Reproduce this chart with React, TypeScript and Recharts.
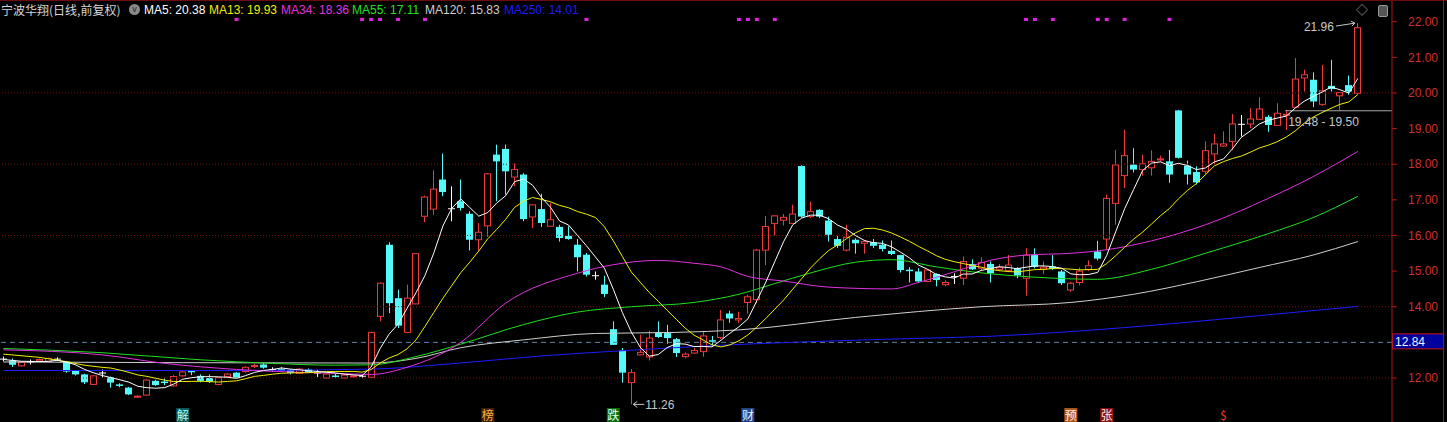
import React from "react";
import { ComposedChart, Bar, Line, XAxis, YAxis, ReferenceLine, ReferenceDot } from "recharts";

// daily candles (index 0 = leftmost)
const opens = [
  12.53, 12.49, 12.34, 12.45, 12.48, 12.47, 12.53, 12.46, 12.2, 12.1, 11.82, 12.14, 12.02, 11.82, 11.73, 11.46,
  11.52, 11.92, 11.9, 11.78, 12.06, 12.21, 12.06, 12.0, 11.82, 12.04, 12.15, 12.18, 12.32, 12.38, 12.24, 12.25,
  12.22, 12.13, 12.24, 12.14, 12.0, 12.07, 12.0, 12.04, 12.05, 12.02, 13.73, 15.74, 14.24, 13.28, 14.08, 16.54,
  16.74, 17.57, 16.75, 16.96, 16.61, 15.88, 16.27, 18.27, 18.43, 17.64, 17.71, 16.52, 16.74, 16.26, 16.24, 15.99,
  15.74, 15.46, 14.87, 14.62, 13.37, 12.77, 11.87, 12.65, 12.59, 13.28, 13.26, 13.09, 12.6, 12.7, 12.74, 13.06,
  13.14, 13.81, 13.63, 14.12, 14.2, 15.59, 16.34, 16.43, 16.34, 17.95, 16.53, 16.72, 16.42, 15.9, 15.59, 15.88,
  15.78, 15.81, 15.74, 15.57, 15.45, 15.04, 14.99, 14.71, 14.92, 14.62, 14.85, 14.8, 15.2, 15.08, 15.2, 15.05,
  15.02, 15.08, 14.8, 15.45, 15.06, 15.13, 14.99, 14.47, 14.68, 15.05, 15.55, 15.9, 16.9, 17.68, 17.99, 17.85,
  17.9, 18.12, 18.08, 19.51, 17.96, 17.78, 17.8, 18.29, 18.51, 18.64, 19.12, 19.13, 19.26, 19.33, 19.09, 19.37,
  19.6, 20.42, 20.37, 19.68, 20.2, 19.92, 20.22, 19.99,
];
const highs = [
  12.6, 12.55, 12.46, 12.52, 12.55, 12.57, 12.58, 12.48, 12.22, 12.12, 12.08, 12.24, 12.04, 11.85, 11.75, 11.52,
  11.96, 11.95, 12.0, 12.08, 12.19, 12.22, 12.1, 12.1, 12.03, 12.14, 12.17, 12.33, 12.4, 12.42, 12.3, 12.3,
  12.25, 12.28, 12.27, 12.23, 12.13, 12.12, 12.1, 12.08, 12.1, 13.3, 14.68, 15.81, 14.48, 14.62, 15.5, 17.12,
  17.83, 18.3, 17.38, 17.57, 16.68, 16.35, 17.75, 18.55, 18.55, 18.02, 17.75, 16.87, 17.17, 16.91, 16.3, 16.26,
  15.9, 15.51, 14.99, 14.87, 13.59, 12.84, 12.25, 13.21, 13.33, 13.59, 13.49, 13.12, 12.72, 12.84, 13.3, 13.18,
  13.91, 13.89, 13.86, 14.34, 15.62, 16.55, 16.57, 16.6, 16.86, 17.97, 16.95, 16.74, 16.53, 15.99, 16.3, 15.92,
  15.88, 15.9, 15.86, 15.86, 15.46, 15.11, 15.08, 15.05, 14.94, 14.74, 14.94, 15.41, 15.33, 15.39, 15.27, 15.2,
  15.45, 15.11, 15.64, 15.64, 15.27, 15.45, 15.03, 14.7, 15.1, 15.3, 15.85, 17.15, 18.4, 18.97, 18.45, 18.27,
  18.39, 18.24, 18.4, 19.52, 18.1, 17.94, 18.64, 18.85, 18.92, 19.41, 19.38, 19.57, 19.88, 19.38, 19.71, 19.52,
  20.98, 20.65, 20.58, 20.79, 20.93, 20.02, 20.49, 21.96,
];
const lows = [
  12.47, 12.31, 12.32, 12.38, 12.46, 12.45, 12.48, 12.15, 12.07, 11.83, 11.8, 12.02, 11.73, 11.74, 11.52, 11.44,
  11.5, 11.78, 11.8, 11.76, 12.04, 12.08, 11.88, 11.86, 11.8, 12.02, 11.99, 12.15, 12.28, 12.26, 12.18, 12.2,
  12.1, 12.12, 12.14, 12.03, 11.98, 12.0, 11.98, 12.0, 12.0, 12.0, 13.59, 13.82, 13.4, 13.26, 14.07, 16.37,
  16.58, 17.1, 16.4, 16.7, 15.58, 15.58, 15.96, 16.96, 17.15, 17.38, 16.4, 16.21, 16.24, 16.24, 15.83, 15.88,
  14.99, 14.85, 14.76, 14.27, 12.93, 11.87, 11.26, 12.64, 12.49, 13.12, 12.96, 12.59, 12.55, 12.68, 12.6, 12.91,
  13.09, 13.55, 13.55, 13.81, 14.1, 15.17, 16.0, 16.28, 16.33, 16.5, 16.49, 16.49, 15.83, 15.65, 15.55, 15.49,
  15.49, 15.65, 15.55, 15.45, 14.96, 14.68, 14.68, 14.69, 14.57, 14.57, 14.64, 14.61, 15.03, 15.03, 14.68, 15.0,
  15.01, 14.8, 14.31, 15.08, 14.92, 15.03, 14.61, 14.42, 14.6, 15.0, 15.3, 15.6, 16.3, 17.33, 17.77, 17.68,
  17.68, 18.08, 17.48, 18.16, 17.43, 17.43, 17.71, 17.99, 18.49, 18.4, 18.78, 19.01, 19.25, 18.91, 19.08, 18.96,
  19.58, 20.04, 19.6, 19.64, 20.04, 19.5, 19.95, 19.98,
];
const closes = [
  12.53, 12.37, 12.44, 12.45, 12.52, 12.55, 12.53, 12.18, 12.1, 11.88, 12.06, 12.14, 11.87, 11.8, 11.54, 11.49,
  11.94, 11.8, 11.88, 12.04, 12.17, 12.16, 11.92, 11.9, 12.01, 12.11, 12.01, 12.3, 12.35, 12.29, 12.24, 12.23,
  12.14, 12.25, 12.16, 12.14, 12.11, 12.05, 12.08, 12.06, 12.05, 13.28, 14.66, 14.1, 13.47, 14.24, 15.49, 17.08,
  17.3, 17.22, 16.75, 16.77, 15.88, 16.09, 17.73, 18.08, 17.8, 17.85, 16.46, 16.86, 16.35, 16.44, 15.93, 15.9,
  15.39, 14.9, 14.87, 14.36, 12.93, 12.15, 12.15, 12.72, 13.12, 13.15, 13.12, 12.7, 12.67, 12.77, 13.18, 13.04,
  13.63, 13.67, 13.67, 14.28, 15.59, 16.25, 16.55, 16.51, 16.6, 16.53, 16.67, 16.53, 16.02, 15.71, 15.95, 15.78,
  15.83, 15.71, 15.62, 15.48, 15.03, 15.02, 14.71, 15.03, 14.75, 14.68, 14.85, 15.27, 15.05, 15.24, 14.94, 15.11,
  15.17, 14.88, 15.45, 15.12, 15.11, 15.06, 14.66, 14.66, 15.0, 15.15, 15.35, 17.04, 17.98, 18.24, 17.85, 18.01,
  18.08, 18.15, 17.71, 18.18, 17.71, 17.49, 18.38, 18.57, 18.57, 19.13, 19.12, 19.27, 19.55, 19.1, 19.43, 19.4,
  20.39, 20.51, 19.76, 20.06, 20.11, 20.01, 20.04, 21.83,
];

// moving averages whose history starts before the window: read at sample days
const ma5Lead: [number, number][] = [[0, 12.52], [2, 12.47]];
const ma13Lead: [number, number][] = [[0, 12.67], [4, 12.58], [7, 12.46], [9, 12.36], [11, 12.3]];
const ma34Pts: [number, number][] = [
  [0, 12.79], [11, 12.65], [18, 12.41], [26, 12.24], [37, 12.13], [41, 12.1], [45, 12.3], [51, 13.0], [56, 14.1],
  [64, 14.94], [68, 15.18], [73, 15.3], [77, 15.22], [80, 15.12], [83, 14.85], [87, 14.72], [92, 14.55], [99, 14.5],
  [102, 14.68], [106, 14.98], [110, 15.3], [114, 15.45], [119, 15.5], [123, 15.6], [128, 15.85], [134, 16.3],
  [141, 17.04], [146, 17.65], [151, 18.36],
];
const ma55Pts: [number, number][] = [
  [0, 12.83], [11, 12.71], [22, 12.51], [30, 12.41], [37, 12.36], [41, 12.37], [46, 12.6], [51, 12.95], [58, 13.5],
  [64, 13.85], [70, 14.0], [77, 14.12], [82, 14.35], [86, 14.65], [90, 14.95], [95, 15.25], [99, 15.32], [104, 15.12],
  [108, 14.98], [115, 14.83], [122, 14.77], [128, 15.05], [134, 15.5], [141, 16.05], [146, 16.5], [151, 17.1],
];
const ma120Pts: [number, number][] = [
  [0, 12.45], [20, 12.43], [41, 12.42], [46, 12.55], [51, 12.85], [58, 13.07], [66, 13.25], [75, 13.28], [82, 13.35],
  [95, 13.7], [109, 14.0], [119, 14.12], [126, 14.35], [133, 14.7], [140, 15.1], [146, 15.45], [151, 15.83],
];
const ma250Pts: [number, number][] = [
  [0, 12.21], [25, 12.21], [41, 12.25], [50, 12.4], [60, 12.62], [70, 12.78], [80, 12.92], [90, 13.02], [100, 13.1],
  [110, 13.17], [120, 13.32], [130, 13.52], [140, 13.75], [151, 14.01],
];

const stockName = "宁波华翔(日线,前复权)";
const maNames = ["MA5", "MA13", "MA34", "MA55", "MA120", "MA250"];
const maValues = ["20.38", "19.93", "18.36", "17.11", "15.83", "14.01"];

const priceTicks = [12, 14, 15, 16, 17, 18, 19, 20, 21, 22];
const gridLevels = [12, 14, 16, 18, 20];
const refLevel = 13.0;
const refLabel = "12.84";
const highDay = 151;
const highPrice = 21.96;
const lowDay = 70;
const lowPrice = 11.26;
const gapDay = 143;
const gapLow = 19.48;
const gapHigh = 19.5;
const newsDays = [26, 40, 41, 42, 44, 47, 65, 82, 83, 84, 86, 114, 115, 117, 122, 123, 125, 130];
const eventDays = [20, 54, 68, 83, 119, 123, 136];
const eventTexts = ["解", "榜", "跌", "财", "预", "张", "$"];

// ---- styling ----
const UP = "#ec3b3b";
const DOWN = "#54fafa";
const FLAT = "#ffffff";
const maColors = ["#ffffff", "#f0f000", "#e033e0", "#1fe01f", "#cfcfcf", "#1c1cff"];
const eventBg = ["#0d5c5c", "#3a2208", "#0b6e0b", "#23468a", "#b3581a", "#8e1010", "none"];
const eventFg = ["#a8ffff", "#ffae40", "#e8ffe8", "#e8f0ff", "#fff0e0", "#ffe8e8", "#ff3030"];
const NUM_FONT = "'Liberation Sans', Arial, sans-serif";
const CJK_FONT = "'Noto Sans CJK SC', 'Noto Sans', sans-serif";

const yMin = 10.765;
const yMax = 22.609;
const xMin = -0.37;
const xMax = 154.8;

const movingAvg = (n: number, lead: [number, number][]) => {
  const out: (number | null)[] = closes.map((_, i) => {
    if (i < n - 1) return null;
    let s = 0;
    for (let k = i - n + 1; k <= i; k++) s += closes[k];
    return s / n;
  });
  lead.forEach(([i, v]) => (out[i] = v));
  return out;
};
const fromPoints = (pts: [number, number][]) => {
  const out: (number | null)[] = closes.map(() => null);
  pts.forEach(([i, v]) => (out[i] = v));
  return out;
};

const ma5 = movingAvg(5, ma5Lead);
const ma13 = movingAvg(13, ma13Lead);
const ma34 = fromPoints(ma34Pts);
const ma55 = fromPoints(ma55Pts);
const ma120 = fromPoints(ma120Pts);
const ma250 = fromPoints(ma250Pts);

const data = closes.map((c, i) => ({
  i,
  open: opens[i],
  high: highs[i],
  low: lows[i],
  close: c,
  range: [lows[i], highs[i]],
  ma5: ma5[i],
  ma13: ma13[i],
  ma34: ma34[i],
  ma55: ma55[i],
  ma120: ma120[i],
  ma250: ma250[i],
}));

function Candle(props: any) {
  const { x, y, width, height, payload } = props;
  if (!payload || x == null || y == null) return null;
  const { open, close, high, low } = payload;
  const top = Math.min(y, y + height);
  const h = Math.abs(height);
  const k = high > low ? h / (high - low) : 0;
  const py = (v: number) => top + (high - v) * k;
  const cx = Math.floor(x + width / 2) + 0.5;
  const bt = py(Math.max(open, close));
  const bb = py(Math.min(open, close));
  if (close > open) {
    return (
      <g>
        <line x1={cx} x2={cx} y1={top} y2={bt} stroke={UP} />
        <line x1={cx} x2={cx} y1={bb} y2={top + h} stroke={UP} />
        <rect x={cx - 3} y={bt} width={6} height={Math.max(bb - bt, 1)} fill="#000" stroke={UP} />
      </g>
    );
  }
  if (close < open) {
    return (
      <g>
        <line x1={cx} x2={cx} y1={top} y2={top + h} stroke={DOWN} />
        <rect x={cx - 3.5} y={bt} width={7} height={Math.max(bb - bt, 1.5)} fill={DOWN} />
      </g>
    );
  }
  return (
    <g>
      <line x1={cx} x2={cx} y1={top} y2={top + h} stroke={FLAT} />
      <line x1={cx - 3.5} x2={cx + 3.5} y1={bt} y2={bt} stroke={FLAT} />
    </g>
  );
}

function PriceTag(props: any) {
  const vb = props.viewBox || {};
  const x = (vb.x || 0) + (vb.width || 0);
  const y = vb.y || 0;
  return (
    <g>
      <rect x={x + 0.5} y={y - 8.5} width={51} height={15} fill="#00009c" stroke="#c01818" />
      <text x={x + 3} y={y + 4} fill="#f0f4ff" fontSize={12} fontFamily={NUM_FONT}>
        {refLabel}
      </text>
    </g>
  );
}

export default function App() {
  return (
    <div style={{ position: "absolute", left: 0, top: 0, width: 1447, height: 422, background: "#000", overflow: "hidden" }}>
      <ComposedChart width={1447} height={422} data={data} margin={{ top: 0, right: 0, bottom: 0, left: 0 }}>
        <XAxis dataKey="i" type="number" domain={[xMin, xMax]} hide allowDataOverflow />
        <YAxis
          orientation="right"
          width={55}
          domain={[yMin, yMax]}
          ticks={priceTicks}
          allowDataOverflow
          interval={0}
          tickFormatter={(v: number) => v.toFixed(2)}
          tick={{ fill: "#cc3030", fontSize: 12, fontFamily: NUM_FONT }}
          tickSize={5}
          tickMargin={11}
          tickLine={{ stroke: "#b01a1a" }}
          axisLine={{ stroke: "#b01a1a" }}
        />
        {gridLevels.map((g) => (
          <ReferenceLine key={g} y={g} stroke="#7c1212" strokeDasharray="1 2" />
        ))}
        <ReferenceLine y={refLevel} stroke="#5f86a8" strokeDasharray="5 4" label={<PriceTag />} />
        <ReferenceLine
          segment={[{ x: gapDay - 0.1, y: gapHigh }, { x: xMax, y: gapHigh }]}
          stroke="#a8a8a8"
          ifOverflow="visible"
        />
        <Bar dataKey="range" barSize={7} shape={<Candle />} isAnimationActive={false} />
        {(["ma250", "ma120", "ma55", "ma34"] as const).map((k) => (
          <Line
            key={k}
            dataKey={k}
            type="monotone"
            stroke={maColors[["ma5", "ma13", "ma34", "ma55", "ma120", "ma250"].indexOf(k)]}
            strokeWidth={1}
            dot={false}
            activeDot={false}
            connectNulls
            isAnimationActive={false}
          />
        ))}
        <Line dataKey="ma13" type="linear" stroke={maColors[1]} strokeWidth={1} dot={false} activeDot={false} connectNulls isAnimationActive={false} />
        <Line dataKey="ma5" type="linear" stroke={maColors[0]} strokeWidth={1} dot={false} activeDot={false} connectNulls isAnimationActive={false} />
        {newsDays.map((d) => (
          <ReferenceDot
            key={"n" + d}
            x={d}
            y={22.05}
            r={0}
            shape={(p: any) => <rect x={p.cx - 2} y={p.cy - 2} width={4} height={3} fill="#e224e2" />}
          />
        ))}
        {eventDays.map((d, n) => (
          <ReferenceDot
            key={"e" + d}
            x={d}
            y={10.96}
            r={0}
            shape={(p: any) => (
              <g>
                {eventBg[n] !== "none" && <rect x={p.cx - 6.5} y={p.cy - 7} width={13} height={14} fill={eventBg[n]} />}
                <text x={p.cx} y={p.cy + 5} textAnchor="middle" fill={eventFg[n]} fontSize={12} fontFamily={CJK_FONT}>
                  {eventTexts[n]}
                </text>
              </g>
            )}
          />
        ))}
        <ReferenceDot
          x={highDay}
          y={highPrice}
          r={0}
          shape={(p: any) => (
            <g>
              <text x={p.cx - 24} y={p.cy + 8} textAnchor="end" fill="#c8c8c8" fontSize={12} fontFamily={NUM_FONT}>
                {highPrice.toFixed(2)}
              </text>
              <line x1={p.cx - 22} y1={p.cy + 3} x2={p.cx - 3} y2={p.cy} stroke="#c8c8c8" />
              <path d={`M${p.cx - 7},${p.cy - 2} L${p.cx - 3},${p.cy} L${p.cx - 6},${p.cy + 3}`} fill="none" stroke="#c8c8c8" />
            </g>
          )}
        />
        <ReferenceDot
          x={lowDay}
          y={lowPrice}
          r={0}
          shape={(p: any) => (
            <g>
              <line x1={p.cx + 2} y1={p.cy} x2={p.cx + 13} y2={p.cy} stroke="#c8c8c8" />
              <path d={`M${p.cx + 6},${p.cy - 3} L${p.cx + 2},${p.cy} L${p.cx + 6},${p.cy + 3}`} fill="none" stroke="#c8c8c8" />
              <text x={p.cx + 14} y={p.cy + 5} fill="#c8c8c8" fontSize={12} fontFamily={NUM_FONT}>
                {lowPrice.toFixed(2)}
              </text>
            </g>
          )}
        />
        <ReferenceDot
          x={gapDay}
          y={gapHigh}
          r={0}
          shape={(p: any) => (
            <text x={p.cx + 2} y={p.cy + 15} fill="#c8c8c8" fontSize={12} fontFamily={NUM_FONT}>
              {`${gapLow.toFixed(2)} - ${gapHigh.toFixed(2)}`}
            </text>
          )}
        />
      </ComposedChart>

      {/* frame bits */}
      <div style={{ position: "absolute", left: 0, top: 0, width: 1447, height: 1, background: "#6e0c0c" }} />
      <div style={{ position: "absolute", left: 1443, top: 0, width: 1, height: 422, background: "#a01616" }} />
      <div style={{ position: "absolute", left: 1356, top: 1, color: "#9a9a9a", fontSize: 12, fontFamily: CJK_FONT }}>◇</div>
      <div style={{ position: "absolute", left: 1378, top: 5, width: 8, height: 10, border: "1px solid #9a9a9a", borderRadius: 2, background: "#555" }} />

      {/* header */}
      <div style={{ position: "absolute", left: 1, top: 2, fontSize: 12, lineHeight: "16px", color: "#d6d6d6", fontFamily: CJK_FONT, whiteSpace: "nowrap" }}>
        {stockName}
      </div>
      <div style={{ position: "absolute", left: 129, top: 4, width: 11, height: 11, borderRadius: 6, background: "#8a8a8a", color: "#222", fontSize: 9, lineHeight: "10px", textAlign: "center", fontFamily: NUM_FONT }}>
        v
      </div>
      {maNames.map((n, k) => (
        <div
          key={n}
          style={{
            position: "absolute",
            left: [144, 209, 281, 352, 425, 504][k],
            top: 3,
            fontSize: 12,
            lineHeight: "15px",
            color: maColors[k],
            fontFamily: NUM_FONT,
            whiteSpace: "nowrap",
          }}
        >
          {`${n}: ${maValues[k]}`}
        </div>
      ))}
    </div>
  );
}
